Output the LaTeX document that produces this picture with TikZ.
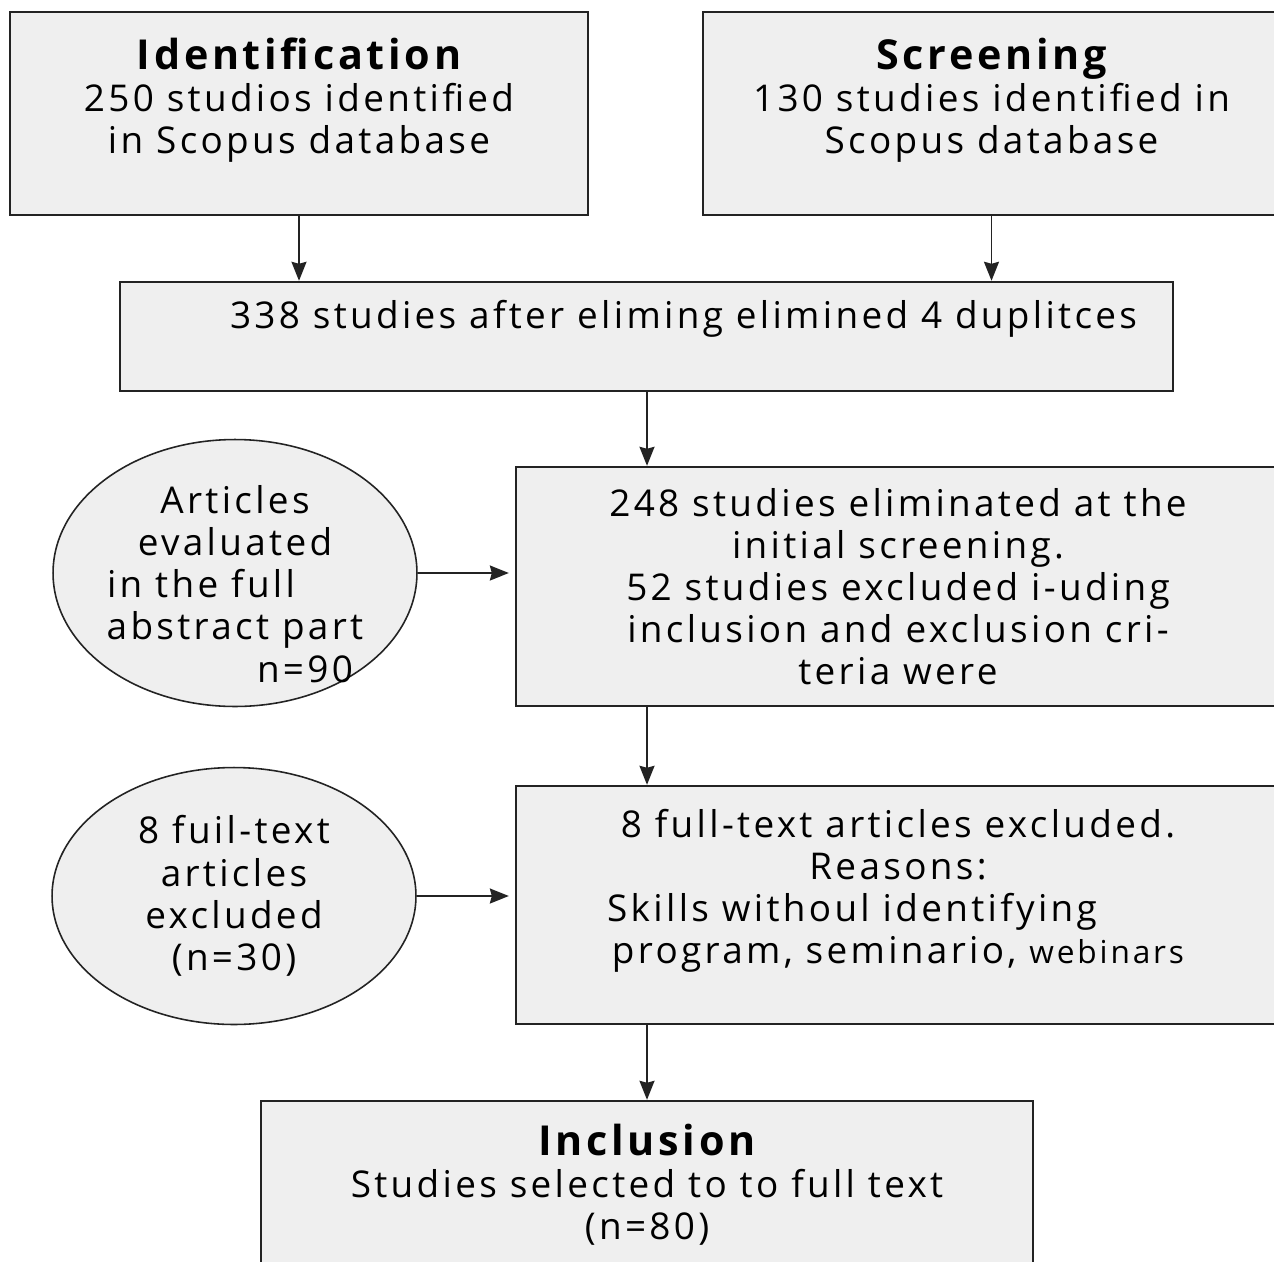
\documentclass[tikz,border=0pt]{standalone}
\usepackage{fontspec}
\setmainfont{Open Sans}[LetterSpace=9]
\definecolor{prismaFill}{RGB}{239,239,239}
\definecolor{prismaLine}{RGB}{35,35,35}
\usetikzlibrary{arrows.meta,positioning,shapes.geometric}
\newcommand{\phase}[1]{{\fontsize{23.5}{24}\selectfont\bfseries #1}}
\newcommand{\padlow}[1]{\rule[-#1]{0pt}{#1}}
\newcommand{\padtop}[1]{\rule{0pt}{#1}}
\newcommand{\padright}[1]{\rule{#1}{0pt}}

\begin{document}
\begin{tikzpicture}[x=0.02cm, y=-0.02cm,
  stage/.style={draw=prismaLine, line width=1.4pt, fill=prismaFill, inner sep=0pt,
                align=center, font=\fontsize{21}{24}\selectfont},
  note/.style={ellipse, draw=prismaLine, line width=0.9pt, fill=prismaFill, inner sep=-1cm,
               minimum width=7.28cm, align=center, font=\fontsize{21}{24}\selectfont},
  arr/.style={-{Stealth[length=0.38cm,width=0.3cm,inset=0.04cm]}, line width=1.1pt, prismaLine}
]
  \fill[white] (0,0) rectangle (1274,1261);
  \useasboundingbox (0,0) rectangle (1274,1261);
  \clip (0,0) rectangle (1274,1261);

  % top row
  \node[stage, minimum width=11.56cm, minimum height=4.06cm] (id) at (299,113.5)
    {\phase{Identification}\\250 studios identified\\in Scopus database\padlow{0.7cm}};
  \node[stage, minimum width=11.54cm, minimum height=4.06cm] (scr) at (991.5,113.5)
    {\phase{Screening}\\130 studies identified in\\Scopus database\padlow{0.7cm}};

  \node[stage, minimum width=21.06cm, minimum height=2.18cm] (dup) at (646.5,336.5)
    {\hspace*{1.48cm}338 studies after eliming elimined 4 duplitces\padlow{0.9cm}};

  % screening steps
  \node[stage, minimum width=15.28cm, minimum height=4.78cm] (elim) at (898,586.5)
    {248 studies eliminated at the\\initial screening.\\52 studies excluded i-uding\\
     inclusion and exclusion cri-\\teria were};
  \node[note, minimum height=5.34cm] (art) at (235,573)
    {\padtop{1cm}Articles\\evaluated\\in the full\padright{1.36cm}\\abstract part\\\hspace*{2.8cm}n=90};

  \node[stage, minimum width=15.28cm, minimum height=4.76cm] (full) at (898,905)
    {8 full-text articles excluded.\\Reasons:\\Skills withoul identifying\padright{1.84cm}\\
     program, seminario, {\fontsize{18}{24}\selectfont webinars}\padlow{0.75cm}};
  \node[note, minimum height=5.14cm] (ftx) at (234,896)
    {8 fuil-text\\articles\\excluded\\(n=30)};

  \node[stage, minimum width=15.44cm, minimum height=3.36cm] (incl) at (647,1185)
    {\phase{Inclusion}\\Studies selected to to full text\\(n=80)};

  % connectors
  \draw[arr] (id.south) -- (id.south |- dup.north);
  \draw[arr] (scr.south) -- (scr.south |- dup.north);
  \draw[arr] (dup.south -| incl.north) -- (elim.north -| incl.north);
  \draw[arr] (elim.south -| incl.north) -- (full.north -| incl.north);
  \draw[arr] (full.south -| incl.north) -- (incl.north);
  \draw[arr, shorten >=0.12cm] (art.east) -- (art.east -| elim.west);
  \draw[arr, shorten >=0.12cm] (ftx.east) -- (ftx.east -| full.west);
\end{tikzpicture}
\end{document}
